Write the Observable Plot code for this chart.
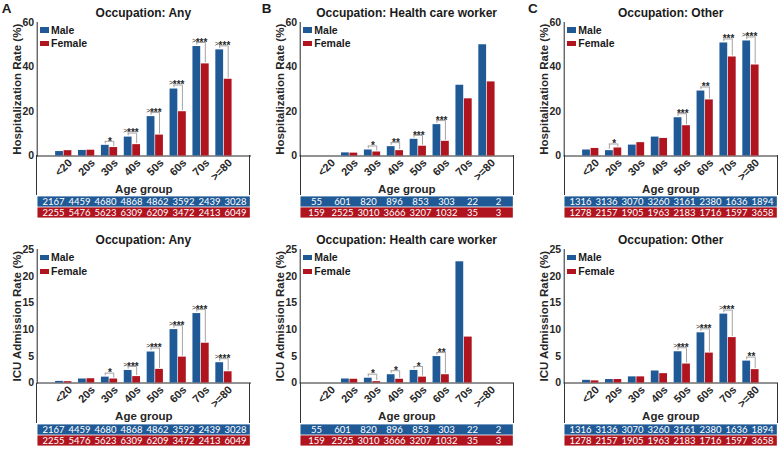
<!DOCTYPE html>
<html><head><meta charset="utf-8">
<script src="https://cdn.jsdelivr.net/npm/d3@7"></script>
<script src="https://cdn.jsdelivr.net/npm/@observablehq/plot@0.6"></script>
<style>
body{margin:0;background:#fff;}
#root{position:relative;width:778px;height:449px;overflow:hidden;font-family:"Liberation Sans",Arial,sans-serif;color:#1a1a1a;}
.abs{position:absolute;}
.title{font-weight:bold;font-size:12px;line-height:12px;white-space:nowrap;transform:translateX(-50%);}
.letter{font-weight:bold;font-size:13.5px;line-height:13.5px;}
.leg{font-weight:bold;font-size:10.5px;line-height:10.5px;white-space:nowrap;}
.sw{width:9px;height:5.5px;}
.box{border-left:1px solid #333;border-right:1px solid #333;box-sizing:border-box;}
</style></head><body><div id="root"></div><script>
// ---- data ----
const ages = ["<20","20s","30s","40s","50s","60s","70s",">=80"];
const sexes = ["Male","Female"];
const occupations = ["Any","Health care worker","Other"];
const letters = ["A","B","C"];
const yLabels = ["Hospitalization Rate (%)","ICU Admission Rate (%)"];
const yTicksHosp = [0,20,40,60];
const yTicksIcu = [0,5,10,15,20,25];

const hospAnyM = [2.0, 2.5, 4.8, 8.5, 17.7, 30.1, 49.2, 47.7];
const hospAnyF = [2.4, 2.6, 3.8, 5.1, 9.4, 19.9, 41.4, 34.5];
const hospHcwM = [0, 1.4, 2.7, 4.2, 7.5, 14.1, 31.8, 50.0];
const hospHcwF = [0, 1.3, 1.8, 2.4, 4.4, 6.6, 25.7, 33.3];
const hospOthM = [2.7, 2.4, 4.9, 8.5, 17.2, 29.2, 50.8, 51.7];
const hospOthF = [3.4, 3.6, 6.0, 7.9, 13.6, 25.2, 44.5, 40.9];
const icuAnyM = [0.3, 0.75, 1.1, 2.35, 5.8, 10.0, 13.0, 3.8];
const icuAnyF = [0.25, 0.8, 0.75, 1.2, 2.55, 4.85, 7.45, 2.1];
const icuHcwM = [0, 0.75, 0.9, 1.55, 2.35, 4.95, 22.7, 0];
const icuHcwF = [0, 0.7, 0.25, 0.7, 1.1, 1.55, 8.6, 0];
const icuOthM = [0.5, 0.65, 1.15, 2.25, 5.85, 9.4, 12.9, 4.1];
const icuOthF = [0.4, 0.65, 1.15, 1.75, 3.55, 5.6, 8.5, 2.5];

const nAnyM = [2167,4459,4680,4868,4862,3592,2439,3028];
const nAnyF = [2255,5476,5623,6309,6209,3472,2413,6049];
const nHcwM = [55,601,820,896,853,303,22,2];
const nHcwF = [159,2525,3010,3666,3207,1032,35,3];
const nOthM = [1316,3136,3070,3260,3161,2380,1636,1894];
const nOthF = [1278,2157,1905,1963,2183,1716,1597,3658];

const sigHospAny = ["","","*",">***",">***",">***",">***",">***"];
const sigHospHcw = ["","","*","**","***","***","",""];
const sigHospOth = ["","*","","","***","**","***",">***"];
const sigIcuAny  = ["","","*",">***",">***",">***",">***",">***"];
const sigIcuHcw  = ["","","*","*","*","**","",""];
const sigIcuOth  = ["","","","",">***",">***",">***","**"];

// ---- layout ----
const colors = ["#1f5a96","#b0151f"];
const colLeft = [36.7, 300, 564];
const rowTop = [21.6, 249.3];
const FW = 213.3, FH = 133.5, ML = 36.7, MR = 8, MT = 8, MB = 40, TH = 23.5;

const rows = [
  {yMax: 60, ticks: yTicksHosp, label: yLabels[0]},
  {yMax: 25, ticks: yTicksIcu, label: yLabels[1]}
];
const panels = [
  {r:0,c:0,m:hospAnyM,f:hospAnyF,sig:sigHospAny,nm:nAnyM,nf:nAnyF},
  {r:0,c:1,m:hospHcwM,f:hospHcwF,sig:sigHospHcw,nm:nHcwM,nf:nHcwF},
  {r:0,c:2,m:hospOthM,f:hospOthF,sig:sigHospOth,nm:nOthM,nf:nOthF},
  {r:1,c:0,m:icuAnyM,f:icuAnyF,sig:sigIcuAny,nm:nAnyM,nf:nAnyF},
  {r:1,c:1,m:icuHcwM,f:icuHcwF,sig:sigIcuHcw,nm:nHcwM,nf:nHcwF},
  {r:1,c:2,m:icuOthM,f:icuOthF,sig:sigIcuOth,nm:nOthM,nf:nOthF}
];

const root = document.getElementById("root");
function place(el, left, top){ el.classList.add("abs"); el.style.left = left+"px"; el.style.top = top+"px"; root.appendChild(el); return el; }
function div(cls, txt){ const d = document.createElement("div"); d.className = cls; if (txt!=null) d.textContent = txt; return d; }

const off = {Male: [-0.355, -0.015], Female: [0.015, 0.355]};
const ctr = {Male: -0.185, Female: 0.185};
const grey = "#a3a3a3";
const ageTicks = ages.map((a,i) => ({i: i+1, a}));

for (const p of panels) {
  const R = rows[p.r];
  const L = colLeft[p.c], T = rowTop[p.r];
  const k = FH / R.yMax;
  const bars = [];
  ages.forEach((a,i) => { bars.push({i:i+1, sex:"Male", v:p.m[i]}); bars.push({i:i+1, sex:"Female", v:p.f[i]}); });
  const sig = ages.map((a,i) => ({i:i+1, s:p.sig[i], m:p.m[i], f:p.f[i]}))
    .filter(d => d.s)
    .map(d => ({...d, by: Math.max(d.m, d.f) + 4/k, stars: d.s.replace(">",""), pre: d.s.startsWith(">") ? ">" : ""}));

  const chart = Plot.plot({
    width: ML+FW+MR, height: MT+FH+MB,
    marginLeft: ML, marginRight: MR, marginTop: MT, marginBottom: MB,
    style: {background: "transparent", fontFamily: "Liberation Sans, Arial, sans-serif", fontSize: "10.5px", fontWeight: "bold", color: "#262626", overflow: "visible"},
    x: {domain: [-0.16, 9.16], ticks: [], tickSize: 0, line: true, label: null},
    y: {domain: [0, R.yMax], ticks: R.ticks, tickSize: 0, tickPadding: 3, line: true, label: null},
    color: {domain: sexes, range: colors},
    marks: [
      Plot.rect(bars, {x1: d => d.i + off[d.sex][0], x2: d => d.i + off[d.sex][1], y1: d => 0, y2: "v", fill: "sex"}),
      Plot.ruleX(sig, {x: d => d.i + ctr.Male, y1: d => d.m + 1.3/k, y2: "by", stroke: grey}),
      Plot.ruleX(sig, {x: d => d.i + ctr.Female, y1: d => d.f + 1/k, y2: "by", stroke: grey}),
      Plot.ruleY(sig, {y: "by", x1: d => d.i + ctr.Male, x2: d => d.i + ctr.Female, stroke: grey}),
      Plot.text(sig, {x: "i", y: "by", text: "stars", fontSize: 10, dx: 0.5}),
      Plot.text(sig.filter(d => d.pre), {x: "i", y: "by", text: "pre", fontSize: 7, fontWeight: "normal", textAnchor: "end", dx: -5, dy: -2}),
      Plot.text(ageTicks, {x: "i", text: "a", frameAnchor: "bottom", rotate: -45, textAnchor: "end", lineAnchor: "middle", dx: 6.5, dy: 5, fontSize: 11}),
      Plot.text([R.label], {text: d => d, frameAnchor: "left", rotate: -90, textAnchor: "middle", lineAnchor: "middle", dx: -20, fontSize: 11.5}),
      Plot.text(["Age group"], {text: d => d, frameAnchor: "bottom", textAnchor: "middle", lineAnchor: "middle", dy: 33, fontSize: 11.5})
    ]
  });
  place(chart, L - ML, T - MT);

  // box around tick-label area
  const bx = div("box"); bx.style.width = (FW+1)+"px"; bx.style.height = MB+"px";
  place(bx, L - 0.5, T + FH);

  // count table
  const cells = [];
  ages.forEach((a,i) => { cells.push({age:a, sex:"Male", n:p.nm[i]}); cells.push({age:a, sex:"Female", n:p.nf[i]}); });
  const table = Plot.plot({
    width: FW, height: TH, margin: 0,
    style: {background: "transparent", fontFamily: "Lato, sans-serif", fontSize: "9.5px", overflow: "visible"},
    x: {type: "band", domain: ages, range: [0, FW], padding: 0, axis: null},
    y: {type: "band", domain: sexes, range: [0, TH], padding: 0, axis: null},
    color: {domain: sexes, range: colors},
    marks: [
      Plot.cell(sexes, {y: d => d, fill: d => d, inset: 0.4}),
      Plot.text(cells, {x: "age", y: "sex", text: d => String(d.n), fill: "white"})
    ]
  });
  place(table, L, T + FH + MB);

  // title
  place(div("title", "Occupation: " + occupations[p.c]), L + FW/2, T - 14.9);

  // legend
  const lx = L + 3.3;
  [["Male", 8.4], ["Female", 22]].forEach(([s, cy], j) => {
    const sw = div("sw"); sw.style.background = colors[j];
    place(sw, lx, T + cy - 2.75);
    place(div("leg", s), lx + 11, T + cy - 5.25);
  });

  if (p.r === 0) place(div("letter", letters[p.c]), [1.7, 261.7, 528][p.c], 2.2);
}
</script></body></html>
